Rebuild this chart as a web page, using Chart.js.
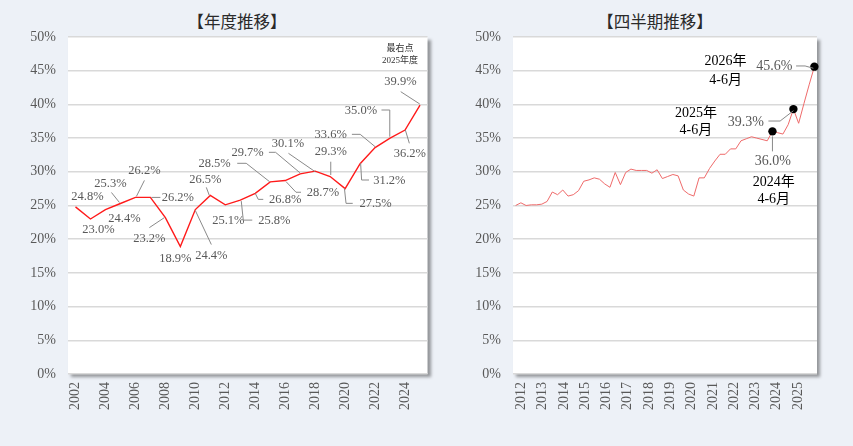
<!DOCTYPE html>
<html><head><meta charset="utf-8">
<script src="https://cdn.jsdelivr.net/npm/chart.js@4.4.1/dist/chart.umd.min.js"></script>
<style>
html,body{margin:0;padding:0;background:#edf1f7;width:853px;height:446px;overflow:hidden;position:relative;}
.title{position:absolute;top:8px;width:240px;text-align:center;font-family:"Noto Sans CJK JP","Noto Sans",sans-serif;font-size:16.5px;font-weight:400;color:#2a2a2a;line-height:26px;}
canvas{position:absolute;top:0}
</style></head><body>
<div class="title" style="left:117px">【年度推移】</div>
<div class="title" style="left:535px">【四半期推移】</div>
<canvas id="c1" width="445" height="446" style="left:0"></canvas>
<canvas id="c2" width="408" height="446" style="left:445px"></canvas>
<script>
// ---------- data ----------
const annualYears = ['2002','2003','2004','2005','2006','2007','2008','2009','2010','2011','2012','2013',
  '2014','2015','2016','2017','2018','2019','2020','2021','2022','2023','2024','2025'];
const annualValues = [24.8,23.0,24.4,25.3,26.2,26.2,23.2,18.9,24.4,26.5,25.1,25.8,
  26.8,28.5,28.7,29.7,30.1,29.3,27.5,31.2,33.6,35.0,36.2,39.9];

const quarterYears = [2012,2013,2014,2015,2016,2017,2018,2019,2020,2021,2022,2023,2024,2025,2026];
const quarterNames = ['1-3月','4-6月','7-9月','10-12月'];
const quarterValues = [
  25.0,25.4,25.0,25.1, 25.1,25.2,25.6,27.0, 26.6,27.3,26.4,26.6, 27.2,28.6,28.8,29.1,
  28.9,28.2,27.7,29.9, 28.1,29.9,30.4,30.2, 30.2,30.2,29.8,30.3, 29.0,29.3,29.6,29.4,
  27.3,26.7,26.4,29.1, 29.1,30.5,31.6,32.6, 32.6,33.4,33.4,34.6, 34.9,35.2,35.0,34.8,
  34.6,36.0,35.8,35.6, 37.0,39.3,37.2,40.1, 42.9,45.6];
const yearTickLabels = [2012,2013,2014,2015,2016,2017,2018,2019,2020,2021,2022,2023,2024,2025];
const highlightIdx = [49,53,57];
const highlightText = [['2024年','4-6月'],['2025年','4-6月'],['2026年','4-6月']];
const yTickValues = [0,5,10,15,20,25,30,35,40,45,50];

const quarterLabels = [];
quarterYears.forEach(y => quarterNames.forEach(q => quarterLabels.push(y + '年' + q)));
quarterLabels.length = quarterValues.length;

// ---------- label layout (offsets relative to each point) ----------
const annualLabelLayout = [
  [12,-10,null],[8,11,null],[19,9,null],
  [-10,-20,[[-9,-11],[-1,-1]]],
  [9,-27,[[9,-17],[1,-1]]],
  [27.5,0,[[1,0],[10,0]]],
  [-16,21,[[-16,10],[-1,0]]],
  [-5,12,null],
  [16,46,[[0,1],[16,35]]],
  [-5,-16,[[-4,-8],[-1,0]]],
  [3,16,null],
  [34,21,[[1,1],[3,20],[12,20]]],
  [30,6,[[0,0],[3,6],[8,6]]],
  [-55.6,-18,[[-33,-18.6],[-24,-18.6],[-0.6,-0.2]]],
  [37.8,11.7,[[0.8,1],[10.8,11.7],[15.8,11.7]]],
  [-52.6,-21.5,[[-31.3,-21.5],[-24.6,-21.5],[-0.3,-1.1]]],
  [-27.2,-27.1,[[-26.7,-17.8],[0,0.6]]],
  [0.7,-24.8,[[0.6,-14.8],[0.6,-1.5]]],
  [30.4,14.7,[[-0.7,-0.3],[0.9,14.7],[7.6,14.7]]],
  [29.2,17.3,[[0.5,-0.4],[1.5,16.3],[8.9,16.3]]],
  [-44.4,-13.2,[[-23.2,-13.2],[-14.9,-13.2],[0.1,-0.8]]],
  [-29.1,-27.1,[[-8.6,-28.1],[-0.3,-28.1],[-0.3,-1.4]]],
  [4.8,24,[[0.3,0],[4.3,13.3]]],
  [-19.6,-23.4,[[-19.3,-13.4],[-0.3,-1.1]]]
];
const highlightLayout = [
  {v:[0.3,29.6], lead:[[0,5],[0,20]], d:[1.3,51,68]},
  {v:[-47.6,13.2], lead:[[-25,11.9],[-13.3,11.9],[0,1.6]], d:[-97.5,4.2,21]},
  {v:[-40,-0.7], lead:[[-18.3,-0.7],[-9.3,-0.7],[-1,1.6]], d:[-88.8,-5,13.3]}
];

const SERIF = '"Liberation Serif","Times New Roman",serif';
const tickColor = '#595959';

const shadowPlugin = {
  id:'plotShadow',
  beforeDraw(chart){
    const {ctx, chartArea:a} = chart;
    ctx.save();
    ctx.shadowColor='rgba(0,0,0,0.38)';
    ctx.shadowBlur=3; ctx.shadowOffsetX=3; ctx.shadowOffsetY=3;
    ctx.fillStyle='#fff';
    ctx.fillRect(a.left,a.top,a.right-a.left,a.bottom-a.top);
    ctx.restore();
  }
};
function poly(ctx,x,y,pts){
  ctx.beginPath();
  pts.forEach((p,k)=>{ if(k) ctx.lineTo(x+p[0],y+p[1]); else ctx.moveTo(x+p[0],y+p[1]); });
  ctx.stroke();
}

const annualLabels = {
  id:'annualLabels',
  afterDatasetsDraw(chart){
    const ctx = chart.ctx, meta = chart.getDatasetMeta(0);
    ctx.save();
    ctx.strokeStyle='#8a8a8a'; ctx.lineWidth=1;
    ctx.fillStyle=tickColor; ctx.font='12.5px '+SERIF;
    ctx.textAlign='center'; ctx.textBaseline='middle';
    meta.data.forEach((pt,i)=>{
      const L = annualLabelLayout[i];
      if (L[2]) poly(ctx, pt.x, pt.y, L[2]);
      ctx.fillText(annualValues[i].toFixed(1)+'%', pt.x+L[0], pt.y+L[1]);
    });
    const last = meta.data[meta.data.length-1];
    ctx.fillStyle='#333'; ctx.font='9px "Liberation Serif","Noto Sans CJK JP",serif';
    ctx.fillText('最右点', last.x-20, last.y-56);
    ctx.fillText('2025年度', last.x-20, last.y-44);
    ctx.restore();
  }
};

const quarterLabelsPlugin = {
  id:'quarterLabels',
  afterDatasetsDraw(chart){
    const ctx = chart.ctx, meta = chart.getDatasetMeta(0);
    ctx.save();
    ctx.textAlign='center'; ctx.textBaseline='middle';
    highlightIdx.forEach((idx,k)=>{
      const pt = meta.data[idx], L = highlightLayout[k];
      ctx.strokeStyle='#8a8a8a'; ctx.lineWidth=1;
      poly(ctx, pt.x, pt.y, L.lead);
      ctx.fillStyle=tickColor; ctx.font='14px '+SERIF;
      ctx.fillText(quarterValues[idx].toFixed(1)+'%', pt.x+L.v[0], pt.y+L.v[1]);
      ctx.fillStyle='#000'; ctx.font='14px "Liberation Serif","Noto Sans CJK JP",serif';
      ctx.fillText(highlightText[k][0], pt.x+L.d[0], pt.y+L.d[1]);
      ctx.fillText(highlightText[k][1], pt.x+L.d[0], pt.y+L.d[2]);
    });
    ctx.restore();
  }
};

const yAxis = {
  min:0, max:50,
  afterFit(s){ s.width = 68; },
  afterBuildTicks(s){ s.ticks = yTickValues.map(v=>({value:v})); },
  grid:{color:'#d9d9d9', lineWidth:1.5, drawTicks:false},
  border:{display:false},
  ticks:{padding:12, color:tickColor, font:{family:SERIF, size:14}, callback:v=>v+'%'}
};

new Chart(document.getElementById('c1'), {
  type:'line',
  data:{labels:annualYears, datasets:[{data:annualValues, borderColor:'#ff1a1a', borderWidth:1.4, pointRadius:0, tension:0, clip:false}]},
  options:{
    responsive:false, animation:false,
    layout:{padding:{top:37,right:8,left:0,bottom:0}},
    plugins:{legend:{display:false}, tooltip:{enabled:false}},
    scales:{
      x:{offset:true, afterFit(s){ s.height = 72; },
        grid:{display:false, drawTicks:false}, border:{display:false},
        ticks:{autoSkip:false, maxRotation:90, minRotation:90, padding:8, color:tickColor,
          font:{family:SERIF, size:14},
          callback(v,i){ return i%2===0 ? annualYears[i] : ''; }}},
      y:yAxis
    }
  },
  plugins:[shadowPlugin, annualLabels]
});

new Chart(document.getElementById('c2'), {
  type:'line',
  data:{labels:quarterLabels, datasets:[{data:quarterValues, xAxisID:'x', yAxisID:'y',
    borderColor:'#ef6b6b', borderWidth:1, tension:0, clip:false,
    pointRadius:c=>highlightIdx.includes(c.dataIndex)?4.2:0,
    pointBackgroundColor:'#000', pointBorderWidth:0}]},
  options:{
    responsive:false, animation:false,
    layout:{padding:{top:37,right:36,left:0,bottom:0}},
    plugins:{legend:{display:false}, tooltip:{enabled:false}},
    scales:{
      x:{type:'category', offset:true, display:false},
      xYear:{type:'linear', position:'bottom', min:2011.607, max:2025.89,
        afterFit(s){ s.height = 72; },
        afterBuildTicks(s){ s.ticks = yearTickLabels.map(v=>({value:v})); },
        grid:{display:false, drawTicks:false}, border:{display:false},
        ticks:{autoSkip:false, maxRotation:90, minRotation:90, padding:8, color:tickColor,
          font:{family:SERIF, size:14}, callback:v=>String(v)}},
      y:yAxis
    }
  },
  plugins:[shadowPlugin, quarterLabelsPlugin]
});
</script>
</body></html>
